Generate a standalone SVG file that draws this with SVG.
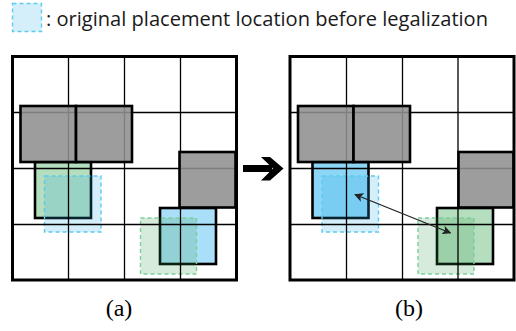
<svg xmlns="http://www.w3.org/2000/svg" width="516" height="331" viewBox="0 0 516 331">
<defs>
<style>
.grid{stroke:#000;stroke-width:1.3;fill:none}
.frame{stroke:#000;stroke-width:3;fill:none}
.gray{fill:#8f8f8f;fill-opacity:0.88;stroke:#000;stroke-width:2.6}
.solid{stroke:#000;stroke-width:2.6}
.green{fill:#b4debe}
.blueA{fill:#a9dff8}
.blueB{fill:#8ed6f5}
.dblue{fill:#28aae6;fill-opacity:0.2;stroke:#5ccbee;stroke-width:1.4;stroke-dasharray:4 3}
.dgreen{fill:#379b50;fill-opacity:0.2;stroke:#7ccf9a;stroke-width:1.4;stroke-dasharray:4 3}
.leg{font-family:"Open Sans","Noto Sans",sans-serif;font-size:20px;fill:#1a1a1a}
</style>
<marker id="ah" viewBox="0 0 10 10" refX="9" refY="5" markerWidth="9" markerHeight="9" markerUnits="userSpaceOnUse" orient="auto-start-reverse">
<path d="M0,0 L10,5 L0,10 L2.5,5 Z" fill="#222"/>
</marker>
</defs>
<rect width="516" height="331" fill="#fff"/>

<g id="legend">
<rect x="12.5" y="3.5" width="29" height="28" class="dblue"/>
<text x="46" y="26" class="leg" textLength="442" lengthAdjust="spacingAndGlyphs">: original placement location before legalization</text>
</g>

<!-- panel (a) -->
<g id="a-green"><rect x="35" y="162" width="56" height="56" class="solid green"/></g>
<g id="a-orig-blue"><rect x="44.5" y="176" width="56.5" height="56" class="dblue"/></g>
<g id="a-blue"><rect x="160" y="208" width="56" height="56" class="solid blueA"/></g>
<g id="a-orig-green"><rect x="140.5" y="218" width="56" height="56" class="dgreen"/></g>

<g id="a-grid">
<path class="grid" d="M68.5 56.5V280M124.5 56.5V280M180.5 56.5V280M12.5 112.5H236.5M12.5 168.5H236.5M12.5 224.5H236.5"/>
</g>
<g id="a-gray1"><rect x="20.5" y="106" width="55.5" height="56" class="gray"/></g>
<g id="a-gray2"><rect x="76" y="106" width="56" height="56" class="gray"/></g>
<g id="a-gray3"><rect x="179.5" y="152" width="56" height="55.5" class="gray"/></g>
<rect x="12.5" y="56.5" width="224" height="223.5" class="frame"/>

<!-- panel (b) -->
<g id="b-blue"><rect x="312.5" y="162" width="56" height="56" class="solid blueB"/></g>
<g id="b-orig-blue"><rect x="322" y="176" width="56.5" height="56" class="dblue"/></g>
<g id="b-green"><rect x="437" y="208" width="56" height="56" class="solid green"/></g>
<g id="b-orig-green"><rect x="418" y="218" width="56" height="56" class="dgreen"/></g>

<g id="b-grid">
<path class="grid" d="M346.5 56.5V280M402.5 56.5V280M458 56.5V280M290 112.5H514M290 168.5H514M290 224.5H514"/>
</g>
<g id="b-gray1"><rect x="298" y="106" width="55.5" height="56" class="gray"/></g>
<g id="b-gray2"><rect x="353.5" y="106" width="56.5" height="56" class="gray"/></g>
<g id="b-gray3"><rect x="458.5" y="152" width="55" height="55.5" class="gray"/></g>
<rect x="290" y="56.5" width="224" height="223.5" class="frame"/>

<g id="connectors">
<line x1="355" y1="194.5" x2="450.5" y2="233" stroke="#222" stroke-width="1.3" marker-start="url(#ah)" marker-end="url(#ah)"/>
<g id="big-arrow" fill="#000">
<rect x="243" y="165" width="29" height="7"/>
<polygon points="261,157 270,157 283.5,168.5 270,180.5 261,180.5 273,168.5"/>
</g>
</g>

<text x="119" y="316" font-family="'Liberation Serif','Times New Roman',serif" font-size="24" text-anchor="middle" fill="#000">(a)</text>
<text x="409" y="316" font-family="'Liberation Serif','Times New Roman',serif" font-size="24" text-anchor="middle" fill="#000">(b)</text>
</svg>
